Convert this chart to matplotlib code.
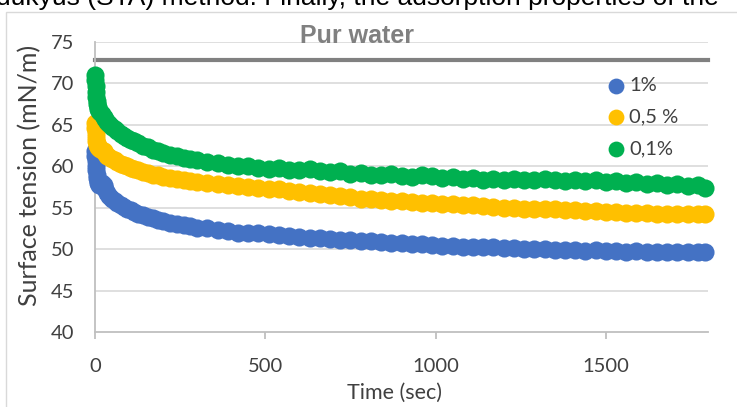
import matplotlib
matplotlib.use("Agg")
import matplotlib.pyplot as plt
from matplotlib.patches import Rectangle

# ---- data ----
time_s = [0, 1, 2, 3, 4, 5, 6, 8, 10, 13, 16, 20, 25, 30, 36, 42, 50, 58, 66, 75,
          85, 95, 105, 115, 125, 140, 155, 170, 185, 200, 220, 240, 260, 280, 300,
          330, 360, 390, 420, 450, 480, 510, 540, 570, 600, 630, 660, 690, 720, 750,
          780, 810, 840, 870, 900, 930, 960, 990, 1020, 1050, 1080, 1110, 1140, 1170,
          1200, 1230, 1260, 1290, 1320, 1350, 1380, 1410, 1440, 1470, 1500, 1530, 1560,
          1590, 1620, 1650, 1680, 1710, 1740, 1770, 1790]

st_1pct = [61.8, 61.2, 60.6, 60.0, 59.5, 59.0, 58.6, 58.2, 58.0, 57.8, 57.9, 58.0, 57.7,
           57.3, 56.8, 56.4, 56.1, 55.8, 55.6, 55.3, 55.1, 54.9, 54.7, 54.5, 54.3, 54.1,
           53.9, 53.7, 53.5, 53.4, 53.2, 53.0, 52.9, 52.8, 52.6,
           52.5, 52.3, 52.2, 52.0, 51.9, 51.9, 51.8, 51.7, 51.6, 51.5, 51.4, 51.3, 51.2,
           51.1, 51.1, 51.0, 51.0, 50.9, 50.8, 50.7, 50.6, 50.6, 50.5, 50.4, 50.4, 50.3,
           50.3, 50.2, 50.2, 50.1, 50.1, 50.0, 50.0, 50.0, 49.9, 49.9, 49.9, 49.8, 49.9,
           49.8, 49.8, 49.7, 49.8, 49.7, 49.7, 49.6, 49.7, 49.6, 49.7, 49.7]

st_05pct = [65.2, 64.6, 64.0, 63.5, 63.1, 62.8, 62.6, 62.4, 62.3, 62.2, 62.1, 62.0, 61.8,
            61.6, 61.3, 61.1, 60.9, 60.7, 60.5, 60.3, 60.1, 60.0, 59.8, 59.7, 59.5, 59.3,
            59.2, 59.0, 58.9, 58.7, 58.6, 58.5, 58.3, 58.2, 58.1,
            58.0, 57.9, 57.7, 57.6, 57.5, 57.4, 57.2, 57.2, 57.0, 56.9, 56.8, 56.6, 56.5,
            56.4, 56.3, 56.1, 56.0, 55.9, 55.8, 55.8, 55.7, 55.6, 55.6, 55.5, 55.4, 55.3,
            55.3, 55.2, 55.1, 55.0, 55.0, 54.9, 54.9, 54.8, 54.8, 54.7, 54.7, 54.6, 54.6,
            54.5, 54.5, 54.4, 54.4, 54.4, 54.3, 54.3, 54.3, 54.2, 54.2, 54.2]

st_01pct = [71.0, 70.4, 69.7, 69.0, 68.4, 67.9, 67.5, 67.2, 66.9, 66.7, 66.5, 66.3, 66.0,
            65.7, 65.4, 65.1, 64.8, 64.5, 64.2, 63.9, 63.6, 63.4, 63.2, 63.0, 62.8, 62.5,
            62.3, 62.0, 61.8, 61.6, 61.4, 61.2, 61.0, 60.9, 60.7,
            60.5, 60.4, 60.2, 60.0, 60.0, 59.8, 59.7, 59.8, 59.6, 59.6, 59.7, 59.4, 59.3,
            59.4, 59.1, 59.2, 59.0, 58.9, 59.1, 58.8, 58.7, 58.9, 58.8, 58.6, 58.7, 58.5,
            58.6, 58.4, 58.5, 58.3, 58.5, 58.4, 58.3, 58.5, 58.3, 58.2, 58.4, 58.2, 58.3,
            58.1, 58.2, 58.0, 58.1, 57.9, 58.0, 57.8, 57.9, 57.6, 57.7, 57.4]

water_time = [0, 1800]
water_st = [72.8, 72.8]

series_labels = ["1%", "0,5 %", "0,1%"]
series_colors = ["#4472C4", "#FFC000", "#00B050"]
x_ticks = [0, 500, 1000, 1500]
y_ticks = [40, 45, 50, 55, 60, 65, 70, 75]

W, H = 737, 407
fig = plt.figure(figsize=(W / 100, H / 100), dpi=100)

# chart frame
fig.patches.append(Rectangle((6 / W, -0.05), 1.05, 1 - 12 / H + 0.05,
                             transform=fig.transFigure, fill=False,
                             edgecolor="#D9D9D9", lw=1.0))

# clipped document text above the chart
fig.text(-4 / W, 1 - 5 / H, "dukyus (STA) method. Finally, the adsorption properties of the",
         family="Liberation Sans", fontsize=19.0, color="black", va="baseline", ha="left")

ax = fig.add_axes([95 / W, 1 - 332 / H, (708 - 95) / W, (332 - 42) / H])
ax.set_xlim(0, 1800)
ax.set_ylim(40, 75)

for yv in y_ticks[1:]:
    ax.axhline(yv, color="#D9D9D9", lw=1.2, zorder=0)

for vals, lab, col in zip([st_1pct, st_05pct, st_01pct], series_labels, series_colors):
    ax.scatter(time_s, vals, s=170, color=col, linewidths=0, label=lab, zorder=3,
               clip_on=False)

ax.plot(water_time, water_st, color="#808080", lw=3.0, solid_capstyle="projecting",
        clip_on=False, zorder=2)
ax.text(770, 75.75, "Pur water", family="Liberation Sans", fontweight="bold",
        fontsize=18, color="#808080", ha="center", va="center")

for s in ["top", "right"]:
    ax.spines[s].set_visible(False)
ax.spines["left"].set_color("#BFBFBF")
ax.spines["bottom"].set_color("#BFBFBF")
ax.spines["left"].set_linewidth(1.3)
ax.spines["bottom"].set_linewidth(1.3)

ax.set_xticks(x_ticks)
ax.set_yticks(y_ticks)
ax.set_xticklabels([str(v) for v in x_ticks])
ax.set_yticklabels([str(v) for v in y_ticks])
ax.tick_params(axis="x", length=5, width=1.3, color="#BFBFBF", pad=14,
               labelsize=14.5, labelcolor="#404040")
ax.tick_params(axis="y", length=0, pad=15, labelsize=14.5, labelcolor="#404040")
for t in ax.get_xticklabels() + ax.get_yticklabels():
    t.set_family("Lato")

ax.set_xlabel("Time (sec)", family="Lato", fontsize=15.5, color="#404040", va="center")
ax.set_ylabel("Surface tension (mN/m)", family="Lato", fontsize=18, color="#404040",
              va="center")
ax.xaxis.set_label_coords(0.489, -0.21)
ax.yaxis.set_label_coords(-0.106, 0.54)

leg = ax.legend(loc="upper left", bbox_to_anchor=((598 - 95) / 613, (332 - 69) / 290),
                frameon=False, handletextpad=0.15, labelspacing=0.72,
                handlelength=1.0, borderaxespad=0, prop={"family": "Lato", "size": 14.5})
for h in leg.legend_handles:
    h.set_sizes([130])
for t in leg.get_texts():
    t.set_color("#404040")

fig.savefig("out.png", dpi=100)
